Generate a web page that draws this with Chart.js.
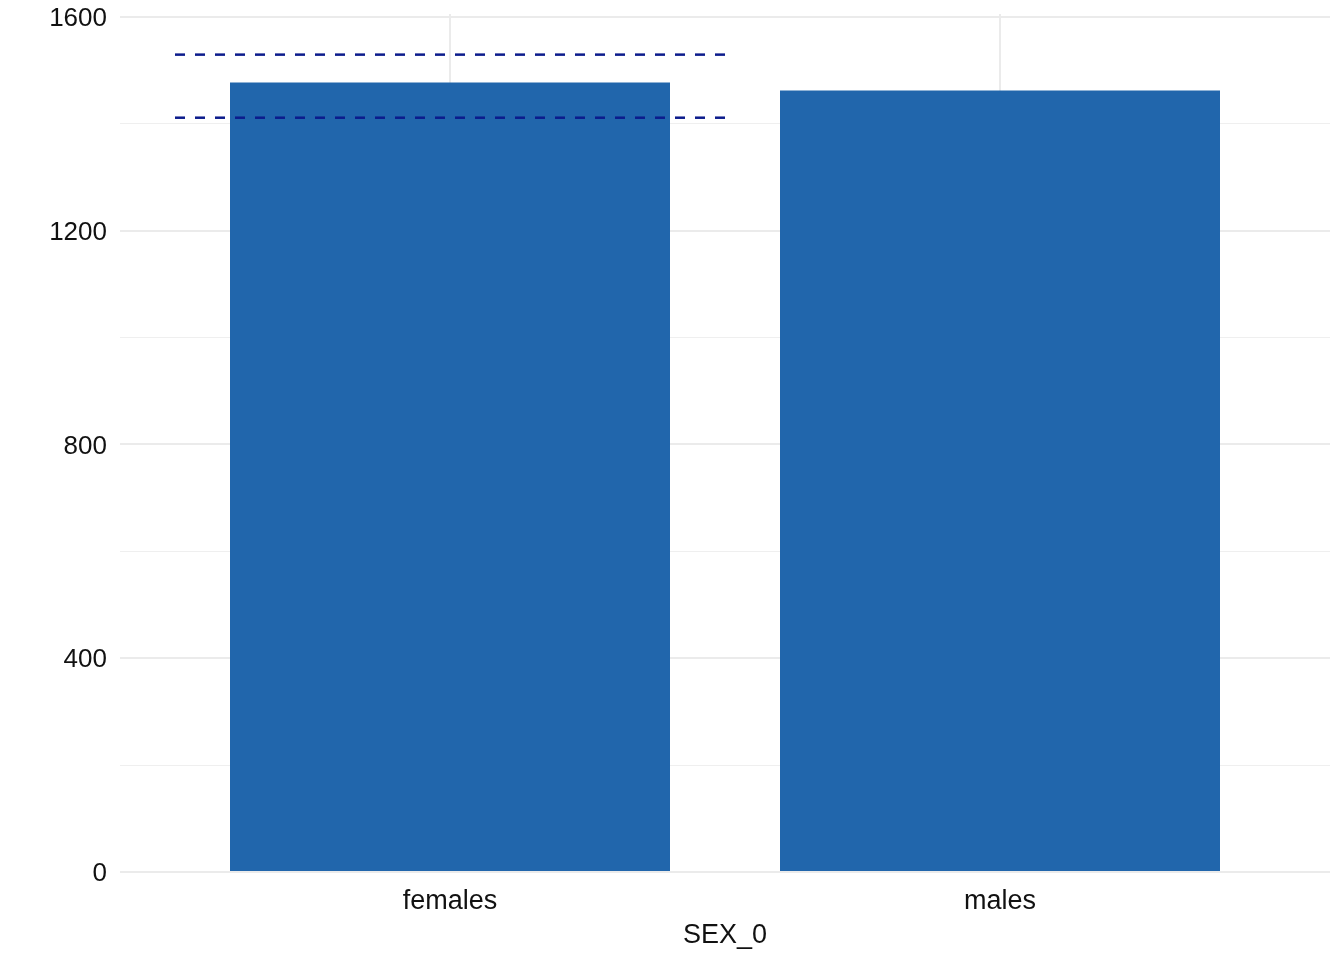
<!DOCTYPE html>
<html>
<head>
<meta charset="utf-8">
<script src="https://cdn.jsdelivr.net/npm/chart.js@4"></script>
<style>
  html, body { margin: 0; padding: 0; background: #ffffff; }
  #wrap { width: 1344px; height: 960px; }
</style>
</head>
<body>
<div id="wrap"><canvas id="c" width="1344" height="960"></canvas></div>
<script>
const categories = ['females', 'males'];
const counts = [1477, 1462];
const refLines = [1529, 1411];
const yTicks = [0, 200, 400, 600, 800, 1000, 1200, 1400, 1600];
const yLabelStep = 400;
const xTitle = 'SEX_0';

const barData = categories.map((c, i) => ({ x: i, y: counts[i] }));
const lineSets = refLines.map(v => ({
  type: 'line',
  data: [{ x: -0.5, y: v }, { x: 0.5, y: v }],
  borderColor: '#0c1c8c',
  borderWidth: 2.5,
  borderDash: [10, 10],
  pointRadius: 0,
  fill: false,
  order: 0
}));

const FONT = "'Liberation Sans', Arial, sans-serif";

new Chart(document.getElementById('c'), {
  type: 'bar',
  data: {
    datasets: [
      {
        type: 'bar',
        data: barData,
        backgroundColor: '#2166AC',
        borderWidth: 0,
        barPercentage: 0.8,
        categoryPercentage: 1.0,
        order: 1
      },
      ...lineSets
    ]
  },
  options: {
    responsive: false,
    animation: false,
    layout: { padding: { top: 14, right: 14, left: 0, bottom: 0 } },
    plugins: { legend: { display: false }, tooltip: { enabled: false } },
    scales: {
      x: {
        type: 'linear',
        min: -0.6,
        max: 1.6,
        offset: false,
        afterBuildTicks: s => { s.ticks = categories.map((c, i) => ({ value: i })); },
        afterFit: s => { s.height = 88; s.paddingLeft = 0; s.paddingRight = 0; },
        ticks: {
          autoSkip: false,
          callback: v => categories[Math.round(v)] ?? '',
          font: { family: FONT, size: 27 },
          color: '#111111',
          padding: 13,
          maxRotation: 0
        },
        grid: { color: '#EBEBEB', lineWidth: 2, drawTicks: false, offset: false },
        border: { display: false },
        title: {
          display: true,
          text: xTitle,
          font: { family: FONT, size: 27 },
          color: '#111111',
          padding: { top: 0, bottom: 8 }
        }
      },
      y: {
        type: 'linear',
        min: 0,
        max: 1605,
        afterBuildTicks: s => { s.ticks = yTicks.map(v => ({ value: v })); },
        afterFit: s => { s.width = 120; s.paddingTop = 0; s.paddingBottom = 0; },
        ticks: {
          autoSkip: false,
          callback: v => (v % yLabelStep === 0 ? String(v) : ''),
          font: { family: FONT, size: 26 },
          color: '#111111',
          padding: 13,
          labelOffset: 2
        },
        grid: {
          color: ctx => (ctx.tick && ctx.tick.value % yLabelStep === 0 ? '#EBEBEB' : '#EFEFEF'),
          lineWidth: ctx => (ctx.tick && ctx.tick.value % yLabelStep === 0 ? 2 : 1),
          drawTicks: false
        },
        border: { display: false }
      }
    }
  }
});
</script>
</body>
</html>
